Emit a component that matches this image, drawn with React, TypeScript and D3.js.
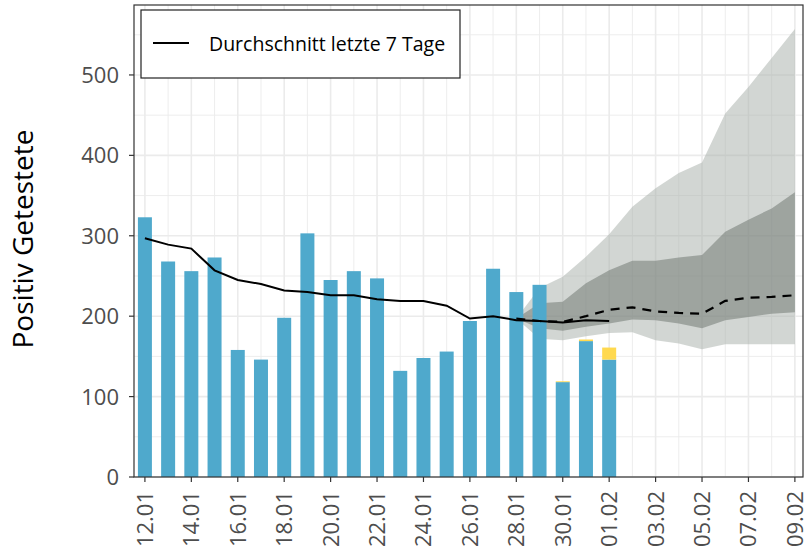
import React from "react";
import * as d3 from "d3";

// Tage 12.01 – 09.02
const days = [
  "12.01", "13.01", "14.01", "15.01", "16.01", "17.01", "18.01", "19.01", "20.01", "21.01",
  "22.01", "23.01", "24.01", "25.01", "26.01", "27.01", "28.01", "29.01", "30.01", "31.01",
  "01.02", "02.02", "03.02", "04.02", "05.02", "06.02", "07.02", "08.02", "09.02",
];
const tickLabels = ["12.01", "14.01", "16.01", "18.01", "20.01", "22.01", "24.01", "26.01",
  "28.01", "30.01", "01.02", "03.02", "05.02", "07.02", "09.02"];

// gemeldete Fälle (12.01 – 01.02)
const reported = [323, 268, 256, 273, 158, 146, 198, 303, 245, 256, 247, 132, 148, 156, 194, 259, 230, 239, 118, 169, 146];
// Nachmeldungen (gelb)
const lateReported = [0, 0, 0, 0, 0, 0, 0, 0, 0, 0, 0, 0, 0, 0, 0, 0, 0, 0, 1, 2, 15];
// Durchschnitt letzte 7 Tage
const average = [297, 289, 284, 257, 245, 240, 232, 230, 226, 226, 221, 219, 219, 213, 197, 200, 195, 194, 192, 195, 194];

// Prognose ab 28.01
const forecastDays = ["28.01", "29.01", "30.01", "31.01", "01.02", "02.02", "03.02", "04.02", "05.02", "06.02", "07.02", "08.02", "09.02"];
const outerLow = [197, 172, 170, 175, 179, 180, 170, 166, 159, 165, 165, 165, 165];
const innerLow = [197, 185, 182, 187, 191, 196, 195, 191, 185, 195, 199, 203, 205];
const innerHigh = [197, 216, 218, 241, 257, 269, 269, 273, 276, 305, 320, 334, 354];
const outerHigh = [197, 235, 249, 274, 302, 336, 359, 378, 391, 452, 485, 521, 557];
const median = [197, 194, 193, 200, 208, 211, 206, 204, 203, 219, 223, 224, 226];

const W = 805;
const H = 556;
const panel = { left: 134, right: 803, top: 5, bottom: 477 };
const font = "'Open Sans', 'Noto Sans', sans-serif";

export default function App() {
  const idx = (d: string) => days.indexOf(d);
  const x = d3.scaleLinear().domain([-0.47, 28.35]).range([panel.left, panel.right]);
  const y = d3.scaleLinear().domain([0, 587]).range([panel.bottom, panel.top]);
  const barW = 14;

  const fc = forecastDays.map((d, i) => ({
    i: idx(d), ol: outerLow[i], il: innerLow[i], ih: innerHigh[i], oh: outerHigh[i], m: median[i],
  }));
  type F = (typeof fc)[number];
  const outerArea = d3.area<F>().x((d) => x(d.i)).y0((d) => y(d.ol)).y1((d) => y(d.oh))(fc) ?? "";
  const innerArea = d3.area<F>().x((d) => x(d.i)).y0((d) => y(d.il)).y1((d) => y(d.ih))(fc) ?? "";
  const medLine = d3.line<F>().x((d) => x(d.i)).y((d) => y(d.m))(fc) ?? "";
  const avgLine = d3.line<number>().x((_, i) => x(i)).y((d) => y(d))(average) ?? "";

  const yMajor = [0, 100, 200, 300, 400, 500];
  const yMinor = [50, 150, 250, 350, 450, 550];

  return (
    <div style={{ position: "fixed", left: 0, top: 0 }}>
      <svg width={W} height={H} style={{ display: "block", background: "#fff" }}>
        {/* grid */}
        {yMinor.map((v) => (
          <line key={"ym" + v} x1={panel.left} x2={panel.right} y1={y(v)} y2={y(v)} stroke="#ebebeb" strokeWidth={0.9} />
        ))}
        {days.map((d, i) => (
          <line key={"xg" + d} x1={x(i)} x2={x(i)} y1={panel.top} y2={panel.bottom} stroke="#ebebeb"
            strokeWidth={tickLabels.includes(d) ? 1.6 : 0.9} />
        ))}
        {yMajor.map((v) => (
          <line key={"yg" + v} x1={panel.left} x2={panel.right} y1={y(v)} y2={y(v)} stroke="#ebebeb" strokeWidth={1.6} />
        ))}

        {/* Prognose-Bänder */}
        <path d={outerArea} fill="#a6aea8" fillOpacity={0.5} />
        <path d={innerArea} fill="#6a716c" fillOpacity={0.5} />

        {/* Balken */}
        {reported.map((v, i) => (
          <g key={"b" + i}>
            <rect x={x(i) - barW / 2} y={y(v)} width={barW} height={y(0) - y(v)} fill="#4fa9cc" />
            {lateReported[i] > 0 && (
              <rect x={x(i) - barW / 2} y={y(v + lateReported[i])} width={barW}
                height={y(v) - y(v + lateReported[i])} fill="#ffd94f" />
            )}
          </g>
        ))}

        <path d={medLine} fill="none" stroke="#000" strokeWidth={2.2} strokeDasharray="9,7" />
        <path d={avgLine} fill="none" stroke="#000" strokeWidth={2} />

        {/* Rahmen */}
        <rect x={panel.left} y={panel.top} width={panel.right - panel.left} height={panel.bottom - panel.top}
          fill="none" stroke="#333" strokeWidth={1.2} />

        {/* y-Achse */}
        {yMajor.map((v) => (
          <g key={"yt" + v}>
            <line x1={panel.left - 5} x2={panel.left} y1={y(v)} y2={y(v)} stroke="#333" strokeWidth={1.2} />
            <text x={panel.left - 15} y={y(v)} dy="0.36em" textAnchor="end" fontFamily={font} fontSize={22} fill="#4d4d4d">
              {v}
            </text>
          </g>
        ))}
        <text transform={`translate(33,239) rotate(-90)`} textAnchor="middle"
          fontFamily={font} fontSize={28} fill="#000">
          Positiv Getestete
        </text>

        {/* x-Achse */}
        {tickLabels.map((d) => (
          <g key={"xt" + d}>
            <line x1={x(idx(d))} x2={x(idx(d))} y1={panel.bottom} y2={panel.bottom + 5} stroke="#333" strokeWidth={1.2} />
            <text transform={`translate(${x(idx(d))},${panel.bottom + 14}) rotate(-90)`} dy="0.36em" textAnchor="end"
              fontFamily={font} fontSize={22} fill="#4d4d4d">
              {d}
            </text>
          </g>
        ))}

        {/* Legende */}
        <rect x={141} y={10} width={319} height={68} fill="#fff" stroke="#222" strokeWidth={1.2} />
        <line x1={153} x2={189} y1={43} y2={43} stroke="#000" strokeWidth={2} />
        <text x={209} y={44} dy="0.35em" fontFamily={font} fontSize={19.5} fill="#000">
          Durchschnitt letzte 7 Tage
        </text>
      </svg>
    </div>
  );
}
